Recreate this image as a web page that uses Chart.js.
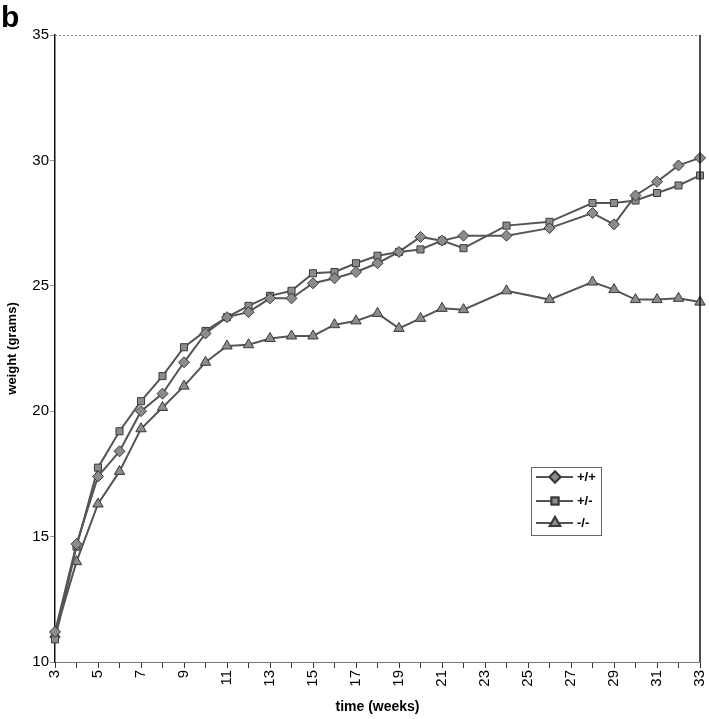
<!DOCTYPE html>
<html>
<head>
<meta charset="utf-8">
<script src="https://cdn.jsdelivr.net/npm/chart.js@4.4.1/dist/chart.umd.min.js"></script>
<style>
  html, body { margin: 0; padding: 0; background: #fff; }
  #wrap { position: relative; width: 709px; height: 719px; }
</style>
</head>
<body>
<div id="wrap"><canvas id="weightChart" width="709" height="719"></canvas></div>
<script>
// weeks 3..33 on a category axis, weeks 23/25/27 have no measurements
const weeks = ['3','4','5','6','7','8','9','10','11','12','13','14','15','16','17','18','19','20','21','22','23','24','25','26','27','28','29','30','31','32','33'];
const wildType = [11.2, 14.7, 17.4, 18.4, 20.0, 20.7, 21.95, 23.1, 23.75, 23.95, 24.5, 24.5, 25.1, 25.3, 25.55, 25.9, 26.35, 26.95, 26.8, 27.0, null, 27.0, null, 27.3, null, 27.9, 27.45, 28.6, 29.15, 29.8, 30.1];
const hetero = [10.9, 14.6, 17.75, 19.2, 20.4, 21.4, 22.55, 23.2, 23.75, 24.2, 24.6, 24.8, 25.5, 25.55, 25.9, 26.2, 26.35, 26.45, 26.8, 26.5, null, 27.4, null, 27.55, null, 28.3, 28.3, 28.4, 28.7, 29.0, 29.4];
const knockout = [11.1, 14.0, 16.3, 17.6, 19.3, 20.15, 21.0, 21.95, 22.6, 22.65, 22.9, 23.0, 23.0, 23.45, 23.6, 23.9, 23.3, 23.7, 24.1, 24.05, null, 24.8, null, 24.45, null, 25.15, 24.85, 24.45, 24.45, 24.5, 24.35];
const seriesNames = ['+/+', '+/-', '-/-'];
const yTicks = [10, 15, 20, 25, 30, 35];

const FONT = 'Arial, "Liberation Sans", sans-serif';
const lineColor = '#555';
const markerFill = '#8c8c8c';
const markerEdge = '#3a3a3a';
const styles = ['rectRot', 'rect', 'triangle'];
const radii = [5.5, 5, 6];

function makeSet(label, data, i) {
  return {
    label, data,
    borderColor: lineColor, borderWidth: 2,
    pointStyle: styles[i], pointRadius: radii[i],
    pointBackgroundColor: markerFill, pointBorderColor: markerEdge, pointBorderWidth: 1,
    spanGaps: true, tension: 0
  };
}

const framePlugin = {
  id: 'frame',
  afterDraw(chart) {
    const { ctx, chartArea: a } = chart;
    ctx.save();
    // dotted top edge, solid right edge
    ctx.strokeStyle = '#888'; ctx.lineWidth = 1; ctx.setLineDash([2, 2]);
    ctx.beginPath(); ctx.moveTo(a.left, a.top + 0.5); ctx.lineTo(a.right, a.top + 0.5); ctx.stroke();
    ctx.setLineDash([]); ctx.strokeStyle = '#111'; ctx.lineWidth = 1.5;
    ctx.beginPath(); ctx.moveTo(a.right, a.top); ctx.lineTo(a.right, a.bottom); ctx.stroke();

    // panel letter
    ctx.fillStyle = '#000'; ctx.font = 'bold 30px ' + FONT; ctx.textBaseline = 'alphabetic';
    ctx.fillText('b', 1, 27);

    // legend box inside plot
    const bx = 531, by = 467, bw = 70, bh = 68;
    ctx.fillStyle = '#fff'; ctx.fillRect(bx, by, bw, bh);
    ctx.strokeStyle = '#666'; ctx.lineWidth = 1; ctx.strokeRect(bx + 0.5, by + 0.5, bw, bh);
    const rows = [477, 501, 523];
    chart.data.datasets.forEach((ds, i) => {
      const y = rows[i];
      ctx.strokeStyle = lineColor; ctx.lineWidth = 2;
      ctx.beginPath(); ctx.moveTo(536, y); ctx.lineTo(573, y); ctx.stroke();
      Chart.helpers.drawPoint(ctx, {
        pointStyle: styles[i], radius: radii[i], borderWidth: 1, rotation: 0
      }, 555, y);
      ctx.fillStyle = markerFill; ctx.strokeStyle = markerEdge;
      ctx.fill(); ctx.stroke();
      ctx.fillStyle = '#000'; ctx.font = 'bold 13px ' + FONT; ctx.textBaseline = 'middle';
      ctx.fillText(ds.label, 577, y);
    });
    ctx.restore();
  }
};

new Chart(document.getElementById('weightChart'), {
  type: 'line',
  data: {
    labels: weeks,
    datasets: [makeSet(seriesNames[0], wildType, 0), makeSet(seriesNames[1], hetero, 1), makeSet(seriesNames[2], knockout, 2)]
  },
  options: {
    responsive: false, animation: false,
    layout: { padding: { top: 35, right: 9, left: 0, bottom: 0 } },
    plugins: { legend: { display: false }, tooltip: { enabled: false } },
    scales: {
      x: {
        type: 'category', offset: false,
        grid: { drawOnChartArea: false, tickLength: 6, color: '#333' },
        border: { color: '#777', dash: [2, 2], width: 1 },
        ticks: {
          autoSkip: false, minRotation: 90, maxRotation: 90, padding: 2,
          color: '#000', font: { family: FONT, size: 15 },
          callback: (v, i) => (i % 2 === 0 ? weeks[i] : '')
        },
        title: { display: true, text: 'time (weeks)', color: '#000', font: { family: FONT, size: 14, weight: 'bold' }, padding: { top: 0, bottom: 3 } },
        afterFit: s => { s.height = 57; s.paddingLeft = 0; s.paddingRight = 0; }
      },
      y: {
        min: yTicks[0], max: yTicks[yTicks.length - 1],
        afterBuildTicks: s => { s.ticks = yTicks.map(v => ({ value: v })); },
        grid: { drawOnChartArea: false, tickLength: 5, color: '#999' },
        border: { color: '#111', width: 1.5 },
        ticks: { color: '#000', padding: 1, font: { family: FONT, size: 15 } },
        title: { display: true, text: 'weight (grams)', color: '#000', font: { family: FONT, size: 13, weight: 'bold' }, padding: { top: 5, bottom: 0 } },
        afterFit: s => { s.width = 55; s.paddingTop = 0; s.paddingBottom = 0; }
      }
    }
  },
  plugins: [framePlugin]
});
</script>
</body>
</html>
